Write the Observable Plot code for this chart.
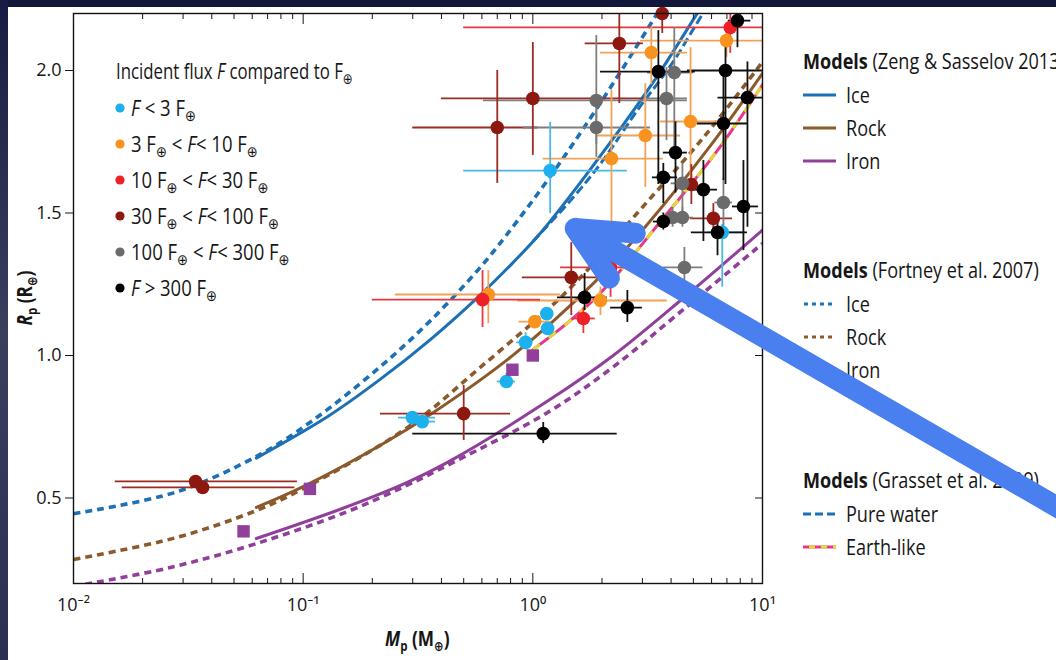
<!DOCTYPE html>
<html><head><meta charset="utf-8">
<script src="https://cdn.jsdelivr.net/npm/d3@7"></script>
<script src="https://cdn.jsdelivr.net/npm/@observablehq/plot@0.6"></script>
<style>
html,body{margin:0;padding:0;background:#fff;}
#wrap{position:relative;width:1056px;height:660px;overflow:hidden;background:#fff;
  font-family:"Open Sans","Noto Sans","DejaVu Sans",sans-serif;color:#161616;}
.band-top{position:absolute;left:0;top:0;width:1056px;height:7px;background:#12163a;}
.band-left{position:absolute;left:0;top:0;width:8px;height:660px;background:linear-gradient(to bottom,#181c42,#3a3f5e 50%,#2b3052);}
.row{position:absolute;white-space:nowrap;font-size:21px;line-height:24px;height:24px;}
.row .t{display:inline-block;transform:scaleX(0.8);transform-origin:0 50%;}
.row.m .t{transform:scaleX(0.86);}
.row.f .t{transform:scaleX(0.88);}
.row sub{font-size:15px;vertical-align:-5px;line-height:0;}
.row svg{position:absolute;}
.lab{position:absolute;white-space:nowrap;font-weight:bold;font-size:21px;line-height:24px;}
.lab .t{display:inline-block;transform:scaleX(0.82);transform-origin:50% 50%;}
.lab sub{font-size:14px;vertical-align:-5px;line-height:0;}
</style></head>
<body>
<div id="wrap"><div class="band-top"></div><div class="band-left"></div></div>
<script>
// ---------------- data ----------------
const xMajorTicks = [0.01, 0.1, 1, 10];
const xMinorTicks = [0.02,0.03,0.04,0.05,0.06,0.07,0.08,0.09,0.2,0.3,0.4,0.5,0.6,0.7,0.8,0.9,2,3,4,5,6,7,8,9];
const yTicks = [0.5, 1.0, 1.5, 2.0];

// model curves: [mass (M_earth), radius (R_earth)]
const zengIce  = [[0.0625,0.64],[0.128,0.786],[0.217,0.917],[0.358,1.056],[0.59,1.212],[0.82,1.326],[1.08,1.43],[1.73,1.64],[3.35,1.96],[5.1,2.19],[6,2.28]];
const zengRock = [[0.0625,0.467],[0.1,0.54],[0.217,0.685],[0.369,0.8],[0.823,1.002],[1.84,1.254],[3.09,1.452],[5.87,1.731],[10,1.99]];
const zengIron = [[0.0625,0.358],[0.15,0.465],[0.284,0.555],[0.425,0.625],[1.16,0.84],[2.24,1.0],[4.5,1.2],[10,1.44]];
const fortneyIce  = [[0.01,0.445],[0.028,0.521],[0.065,0.653],[0.11,0.772],[0.217,0.961],[0.358,1.122],[0.574,1.298],[0.76,1.418],[1.2,1.632],[1.91,1.87],[3.16,2.146],[4,2.28]];
const fortneyRock = [[0.01,0.284],[0.028,0.361],[0.0625,0.456],[0.1,0.533],[0.284,0.747],[0.59,0.958],[1.42,1.228],[2.85,1.5],[5.6,1.77],[10,2.03]];
const fortneyIron = [[0.01,0.19],[0.0264,0.256],[0.0625,0.34],[0.15,0.447],[0.284,0.545],[0.45,0.625],[1.16,0.8],[2.24,0.96],[4.5,1.16],[10,1.393]];
const grassetWater = [[1.0,1.4],[1.5,1.555],[2.0,1.68],[2.85,1.86],[4.0,2.02],[5.5,2.2],[6.5,2.29]];
const grassetEarth = [[1.0,1.02],[1.42,1.115],[2.0,1.225],[3.6,1.47],[6.37,1.72],[10,1.95]];

// planets: [mass, radius, massLow, massHigh, radiusLow, radiusHigh]
const fluxLt3 = [
  [0.299,0.782,0.26,0.377,0.77,0.795],
  [0.33,0.768,0.30,0.377,0.755,0.78],
  [0.767,0.909,0.70,0.84,0.884,0.937],
  [0.93,1.046,0.85,1.0,1.02,1.08],
  [1.16,1.095,1.1,1.22,1.08,1.11],
  [1.15,1.147,1.1,1.2,1.13,1.165],
  [1.19,1.649,0.5,2.58,1.498,1.818],
  [6.68,1.432,5.75,8.4,1.24,1.46]
];
const flux3to10 = [
  [0.64,1.214,0.252,1.32,1.112,1.298],
  [1.97,1.193,0.86,3.85,1.14,1.24],
  [1.02,1.119,0.87,1.2,1.1,1.14],
  [2.2,1.691,1.11,3.7,1.45,1.93],
  [3.09,1.772,1.91,4.4,1.59,1.954],
  [4.86,1.821,3.6,6.37,1.59,2.08],
  [3.28,2.063,1.97,4.71,1.95,2.151],
  [6.97,2.105,2.94,12,2.046,2.15]
];
const flux10to30 = [
  [0.604,1.196,0.2,1.08,1.098,1.298],
  [7.24,2.151,0.5,12,2.06,2.2],
  [1.66,1.13,1.49,1.87,1.077,1.168],
  [2.18,1.309,1.32,2.66,1.204,1.35]
];
const flux30to100 = [
  [0.034,0.558,0.0152,0.0944,0.55,0.566],
  [0.0365,0.537,0.0163,0.092,0.53,0.545],
  [1.47,1.274,0.9,2.24,1.14,1.396],
  [0.5,0.796,0.217,0.8,0.702,0.895],
  [6.11,1.481,4.86,7.4,1.428,1.533],
  [1.0,1.902,0.4,3.03,1.702,2.098],
  [0.70,1.8,0.3,1.05,1.604,2.0],
  [2.38,2.095,1.69,3.03,1.884,2.2],
  [3.66,2.2,3.5,3.8,2.13,2.27],
  [4.9,1.6,4.7,5.1,1.53,1.67]
];
const flux100to300 = [
  [1.89,1.895,0.61,4.71,1.695,2.123],
  [1.89,1.8,0.91,3.25,1.74,1.86],
  [4.13,1.993,3.16,5.0,1.73,2.151],
  [3.82,1.902,3.03,4.71,1.754,2.01],
  [4.48,1.604,4.0,5.0,1.474,1.674],
  [4.06,1.484,3.6,4.5,1.45,1.52],
  [4.48,1.484,4.1,5.0,1.45,1.52],
  [6.76,1.537,6.2,7.4,1.446,1.62],
  [4.57,1.309,3.7,5.5,1.239,1.379]
];
const fluxGt300 = [
  [1.11,0.726,0.3,2.33,0.691,0.765],
  [2.58,1.168,2.18,3.0,1.116,1.228],
  [1.68,1.204,1.28,2.11,1.158,1.288],
  [3.7,1.625,3.32,4.27,1.533,1.674],
  [3.7,1.47,3.35,4.0,1.44,1.5],
  [5.53,1.582,4.86,6.37,1.40,1.684],
  [6.37,1.432,4.9,8.6,1.35,1.47],
  [8.26,1.523,7.4,9.6,1.368,1.684],
  [4.18,1.712,3.7,4.71,1.57,1.82],
  [3.52,1.996,1.97,5.1,1.6,2.14],
  [6.9,2.0,4.71,10,1.6,2.095],
  [6.76,1.814,5.2,8.6,1.614,1.99],
  [8.6,1.905,6.4,10,1.45,2.03],
  [7.78,2.175,7.1,8.9,2.08,2.25]
];
// solar-system planets (Mercury, Mars, Venus, Earth)
const solarMass   = [0.055, 0.107, 0.815, 1.0];
const solarRadius = [0.383, 0.532, 0.95, 1.0];

const fluxLabels = [
  "<i>F</i> &lt; 3 F<sub>⊕</sub>",
  "3 F<sub>⊕</sub> &lt; <i>F</i>&lt; 10 F<sub>⊕</sub>",
  "10 F<sub>⊕</sub> &lt; <i>F</i>&lt; 30 F<sub>⊕</sub>",
  "30 F<sub>⊕</sub> &lt; <i>F</i>&lt; 100 F<sub>⊕</sub>",
  "100 F<sub>⊕</sub> &lt; <i>F</i>&lt; 300 F<sub>⊕</sub>",
  "<i>F</i> &gt; 300 F<sub>⊕</sub>"
];
const fluxTitle = "Incident flux <i>F</i> compared to F<sub>⊕</sub>";
const modelGroups = ["(Zeng &amp; Sasselov 2013)", "(Fortney et al. 2007)", "(Grasset et al. 2009)"];
const modelItems = [["Ice","Rock","Iron"],["Ice","Rock","Iron"],["Pure water","Earth-like"]];
// annotation arrow: [mass, radius] of tail and tip
const arrowTail = [230, 0.432];
const arrowTip  = [1.53, 1.446];

// ---------------- styles ----------------
const FONT = '"Open Sans","Noto Sans","DejaVu Sans",sans-serif';
const fluxFill = ["#1cb0ec","#f7931e","#ee1f26","#8c1810","#6b6b6b","#000000"];
const fluxBar  = ["#4cb7e2","#f2a256","#e6373c","#9c2b23","#7e7e7e","#111111"];
const cIce = "#1b70b6", cRock = "#8b5a2b", cIron = "#903f9a", cPink = "#e8368b", cYellow = "#e0db33";
const W = 1056, H = 660, ML = 73, MR = 294, MT = 13, MB = 77;

// ---------------- build ----------------
const groups = [fluxLt3, flux3to10, flux10to30, flux30to100, flux100to300, fluxGt300];
const pts = groups.flatMap((g, i) => g.map(([m, r, mlo, mhi, rlo, rhi]) => ({cat: i, m, r, mlo, mhi, rlo, rhi})));
const solar = solarMass.map((m, i) => ({m, r: solarRadius[i]}));
const sup = {"-":"⁻","0":"⁰","1":"¹","2":"²","3":"³"};
const fmtPow = d => "10" + String(Math.round(Math.log10(d))).split("").map(c => sup[c]).join("");
const P = d => d[0], Q = d => d[1];
const curve = "catmull-rom";
const dotted = {strokeWidth: 3.6, strokeDasharray: "7,5", strokeLinecap: "butt", clip: true};

const scales = {
  x: {type: "log", domain: [0.01, 10]},
  y: {domain: [0.2, 2.2]}
};

const main = Plot.plot({
  width: W, height: H, marginLeft: ML, marginRight: MR, marginTop: MT, marginBottom: MB,
  ...scales,
  color: {type: "identity"},
  style: {fontFamily: FONT, fontSize: "17px", background: "transparent", color: "#161616"},
  marks: [
    Plot.line(fortneyIce,  {x: P, y: Q, curve, stroke: cIce,  ...dotted}),
    Plot.line(fortneyRock, {x: P, y: Q, curve, stroke: cRock, ...dotted}),
    Plot.line(fortneyIron, {x: P, y: Q, curve, stroke: cIron, ...dotted}),
    Plot.line(zengIce,  {x: P, y: Q, curve, stroke: cIce,  strokeWidth: 3, clip: true}),
    Plot.line(zengRock, {x: P, y: Q, curve, stroke: cRock, strokeWidth: 3, clip: true}),
    Plot.line(zengIron, {x: P, y: Q, curve, stroke: cIron, strokeWidth: 3, clip: true}),
    Plot.line(grassetWater, {x: P, y: Q, curve, stroke: cIce, strokeWidth: 3, strokeDasharray: "9,4", strokeLinecap: "butt", clip: true}),
    Plot.line(grassetEarth, {x: P, y: Q, curve, stroke: cPink, strokeWidth: 3, clip: true}),
    Plot.line(grassetEarth, {x: P, y: Q, curve, stroke: cYellow, strokeWidth: 3, strokeDasharray: "9,11", strokeLinecap: "butt", clip: true}),
    Plot.ruleY(pts, {y: "r", x1: "mlo", x2: "mhi", stroke: d => fluxBar[d.cat], strokeWidth: 1.8, clip: true}),
    Plot.ruleX(pts, {x: "m", y1: "rlo", y2: "rhi", stroke: d => fluxBar[d.cat], strokeWidth: 1.8, clip: true}),
    Plot.dot(pts, {x: "m", y: "r", fill: d => fluxFill[d.cat], r: 6.8}),
    Plot.dot(solar, {x: "m", y: "r", symbol: "square", r: 7, fill: cIron}),
    Plot.frame({stroke: "#111", strokeWidth: 1.4}),
    Plot.axisX({ticks: xMajorTicks, anchor: "bottom", tickSize: -10, tickFormat: () => "", label: null}),
    Plot.axisX({ticks: xMinorTicks, anchor: "bottom", tickSize: -5, tickFormat: () => "", label: null}),
    Plot.axisX({ticks: xMajorTicks, anchor: "top", tickSize: -10, tickFormat: () => "", label: null}),
    Plot.axisX({ticks: xMinorTicks, anchor: "top", tickSize: -5, tickFormat: () => "", label: null}),
    Plot.axisX({ticks: xMajorTicks, anchor: "bottom", tickSize: 0, tickPadding: 15, tickFormat: fmtPow, label: null, fontSize: 18}),
    Plot.axisY({ticks: yTicks, anchor: "left", tickSize: 8, tickPadding: 4, tickFormat: d => d.toFixed(1), label: null, fontSize: 18}),
    Plot.axisY({ticks: yTicks, anchor: "right", tickSize: -8, tickFormat: () => "", label: null})
  ]
});

const wrap = document.getElementById("wrap");
main.style.position = "absolute"; main.style.left = "0px"; main.style.top = "0px";
wrap.appendChild(main);

function addRow(html, left, cy, extra) {
  const d = document.createElement("div");
  d.className = "row" + (extra ? " " + extra : "");
  d.style.left = left + "px";
  d.style.top = (cy - 12) + "px";
  d.innerHTML = `<span class="t">${html}</span>`;
  wrap.appendChild(d);
  return d;
}
// axis labels
const xl = document.createElement("div");
xl.className = "lab";
xl.innerHTML = `<span class="t"><i>M</i><sub>p</sub> (M<sub>⊕</sub>)</span>`;
wrap.appendChild(xl);
xl.style.left = (ML + (W - ML - MR) / 2 - xl.offsetWidth / 2) + "px";
xl.style.top = (638 - 12) + "px";
const yl = document.createElement("div");
yl.className = "lab";
yl.innerHTML = `<span class="t"><i>R</i><sub>p</sub> (R<sub>⊕</sub>)</span>`;
wrap.appendChild(yl);
const yw = yl.offsetWidth;
yl.style.left = (24 - yw / 2) + "px";
yl.style.top = (MT + (H - MT - MB) / 2 - 12) + "px";
yl.style.transform = "rotate(-90deg)";

// flux legend
addRow(fluxTitle, 116, 71);
fluxLabels.forEach((lab, i) => {
  const r = addRow(lab, 131, 108 + i * 36, "f");
  const s = document.createElementNS("http://www.w3.org/2000/svg", "svg");
  s.setAttribute("width", 12); s.setAttribute("height", 12);
  s.style.left = "-17px"; s.style.top = "6px";
  s.innerHTML = `<circle cx="6" cy="6" r="4.6" fill="${fluxFill[i]}"/>`;
  r.appendChild(s);
});

// model legends
const swatches = [
  [`<line x1="0" y1="6" x2="33" y2="6" stroke="${cIce}" stroke-width="3"/>`,
   `<line x1="0" y1="6" x2="33" y2="6" stroke="${cRock}" stroke-width="3"/>`,
   `<line x1="0" y1="6" x2="33" y2="6" stroke="${cIron}" stroke-width="3"/>`],
  [`<line x1="1" y1="6" x2="33" y2="6" stroke="${cIce}" stroke-width="3" stroke-dasharray="4,4"/>`,
   `<line x1="1" y1="6" x2="33" y2="6" stroke="${cRock}" stroke-width="3" stroke-dasharray="4,4"/>`,
   `<line x1="1" y1="6" x2="33" y2="6" stroke="${cIron}" stroke-width="3" stroke-dasharray="4,4"/>`],
  [`<line x1="0" y1="6" x2="33" y2="6" stroke="${cIce}" stroke-width="3" stroke-dasharray="8,4"/>`,
   `<line x1="0" y1="6" x2="33" y2="6" stroke="${cPink}" stroke-width="3"/><line x1="0" y1="6" x2="33" y2="6" stroke="${cYellow}" stroke-width="3" stroke-dasharray="6,6" stroke-dashoffset="-6"/>`]
];
const groupTop = [61, 270, 480];
modelGroups.forEach((g, gi) => {
  addRow("<b>Models</b> " + g, 803, groupTop[gi], "m");
  modelItems[gi].forEach((it, ii) => {
    const r = addRow(it, 846, groupTop[gi] + 34 + ii * 33, "m");
    const s = document.createElementNS("http://www.w3.org/2000/svg", "svg");
    s.setAttribute("width", 34); s.setAttribute("height", 12);
    s.style.left = "-43px"; s.style.top = "6px";
    s.innerHTML = swatches[gi][ii];
    r.appendChild(s);
  });
});

// annotation arrow overlay
const over = Plot.plot({
  width: W, height: H, marginLeft: ML, marginRight: MR, marginTop: MT, marginBottom: MB,
  x: {...scales.x, axis: null}, y: {...scales.y, axis: null},
  style: {background: "transparent"},
  marks: [
    Plot.arrow([{tail: arrowTail, tip: arrowTip}], {
      x1: d => d.tail[0], y1: d => d.tail[1], x2: d => d.tip[0], y2: d => d.tip[1],
      stroke: "#4a7ff0", strokeWidth: 21, headLength: 4.3, headAngle: 51,
      strokeLinecap: "round", strokeLinejoin: "round"
    })
  ]
});
over.style.position = "absolute"; over.style.left = "0px"; over.style.top = "0px";
over.style.pointerEvents = "none";
wrap.appendChild(over);
</script>
</body></html>
